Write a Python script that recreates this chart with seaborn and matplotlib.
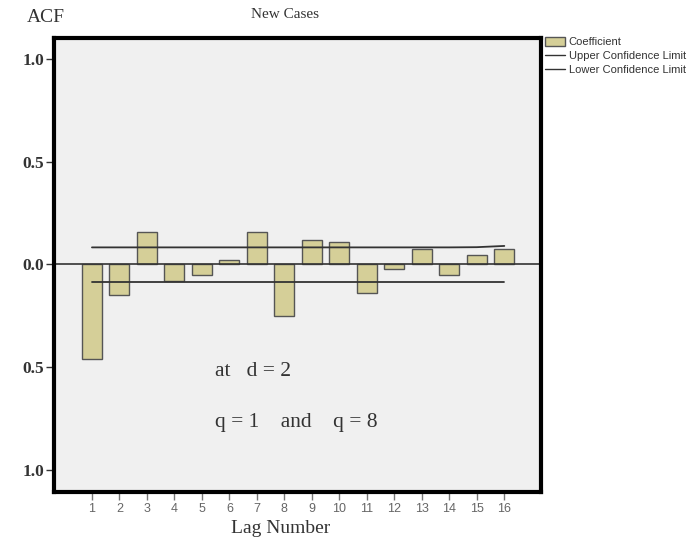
import matplotlib
matplotlib.use("Agg")
import matplotlib.pyplot as plt
import seaborn as sns
import numpy as np
import pandas as pd
from matplotlib.patches import Patch
from matplotlib.lines import Line2D

lags = list(range(1, 17))
acf = [-0.46, -0.146, 0.156, -0.078, -0.049, 0.02, 0.156, -0.25,
       0.117, 0.107, -0.141, -0.02, 0.073, -0.053, 0.044, 0.073]
upper = [0.083, 0.083, 0.083, 0.083, 0.083, 0.083, 0.083, 0.083,
         0.083, 0.083, 0.083, 0.083, 0.083, 0.083, 0.084, 0.09]
lower = [-0.085] * 16
ytick_vals = [1.0, 0.5, 0.0, -0.5, -1.0]
ytick_labels = ["1.0", "0.5", "0.0", "0.5", "1.0"]

df = pd.DataFrame({"lag": lags, "acf": acf})

sns.set_theme(style="white")
plt.rcParams["font.family"] = ["Liberation Serif", "DejaVu Serif"]

fig = plt.figure(figsize=(6.97, 5.43), dpi=100)
ax = fig.add_axes([0.0775, 0.094, 0.776 - 0.0775, 0.930 - 0.094])
ax.set_facecolor("#f0f0f0")

sns.barplot(data=df, x="lag", y="acf", native_scale=True, width=0.73,
            color="#d5cf98", edgecolor="#555555", linewidth=1.0,
            saturation=1, ax=ax)

ax.axhline(0, color="#333333", lw=1.2, zorder=1)
ax.plot(lags, upper, color="#333333", lw=1.3, zorder=3)
ax.plot(lags, lower, color="#333333", lw=1.3, zorder=3)

ax.set_xlim(-0.38, 17.33)
ax.set_ylim(-1.105, 1.10)
ax.set_yticks(ytick_vals)
ax.set_yticklabels(ytick_labels, fontsize=12.5, fontweight="bold", color="#333333")
ax.set_xticks(lags)
ax.set_xticklabels([str(l) for l in lags], fontsize=9, color="#666666",
                   family=["Liberation Sans", "DejaVu Sans"])
ax.tick_params(axis="y", direction="out", length=6, width=1, color="#333333",
               left=True, pad=1)
ax.tick_params(axis="x", direction="out", length=6, width=1, color="#777777",
               bottom=True, pad=2)
for s in ax.spines.values():
    s.set_visible(True)
    s.set_color("black")
    s.set_linewidth(3)
ax.set_xlabel("")
ax.set_ylabel("")

fig.text(281 / 697, 1 - 533 / 543, "Lag Number", fontsize=14, color="#333333",
         ha="center", va="baseline")
fig.text(46 / 697, 1 - 17 / 543, "ACF", fontsize=14, color="#333333",
         ha="center", va="center")
fig.text(285 / 697, 1 - 14 / 543, "New Cases", fontsize=11, color="#333333",
         ha="center", va="center")

fig.text(215 / 697, 1 - 371 / 543, "at   d = 2", fontsize=15.5,
         color="#333333", ha="left", va="center")
fig.text(215 / 697, 1 - 422 / 543, "q = 1    and    q = 8",
         fontsize=15.5, color="#333333", ha="left", va="center")

handles = [
    Patch(facecolor="#d5cf98", edgecolor="#555555", label="Coefficient"),
    Line2D([0], [0], color="#333333", lw=1, label="Upper Confidence Limit"),
    Line2D([0], [0], color="#333333", lw=1, label="Lower Confidence Limit"),
]
fig.legend(handles=handles, loc="upper left", bbox_to_anchor=(0.776, 0.94),
           frameon=False, prop={"family": ["Liberation Sans", "DejaVu Sans"], "size": 8},
           handlelength=1.8, handleheight=0.9, handletextpad=0.3, labelspacing=0.3,
           borderaxespad=0, labelcolor="#333333")

fig.savefig("out.png", dpi=100)
